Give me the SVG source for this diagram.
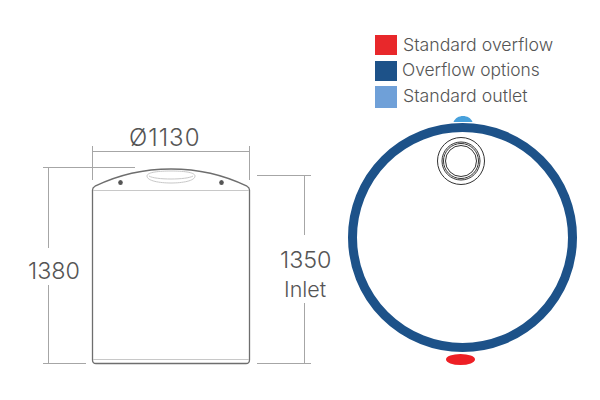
<svg xmlns="http://www.w3.org/2000/svg" width="600" height="400" viewBox="0 0 600 400">
<style>
text{font-family:Inter,"Liberation Sans",Arial,sans-serif;font-weight:300;fill:#555}
.dim{font-size:23.300px}
.leg{font-size:17.700px}
.d{fill:none;stroke:#a6a6a6;stroke-width:1}
.t{fill:none;stroke:#6e6e6e;stroke-width:1.300}
.l{fill:none;stroke:#c8c8c8;stroke-width:1}
</style>
<rect width="600" height="400" fill="#fff"/>
<g id="connectors">
<path class="d" d="M92.500 146V180M249.500 146V180M92.500 151.500H249.500"/>
<path class="d" d="M43 167.500H135M48.500 167.500V248M48.500 285V363.500M43 363.500H86"/>
<path class="d" d="M257 175.500H311M304.500 175.500V235M304.500 303V363.500M257 363.500H311"/>
</g>
<g id="tank">
<path class="t" d="M92.500 190C92.500 188 93.500 187 95 186.200C120 174 146 169 171 169C196 169 222 174 247 186.200C248.500 187 249.500 188 249.500 190V360C249.500 362 248 363.500 246 363.500H96C94 363.500 92.500 362 92.500 360Z"/>
<path class="l" d="M93 190.500H249M93 359.500H249"/>
<path class="l" d="M147 176C147 172 160 171 171 171C182 171 195 172 195 176C195 181 182 183 171 183C160 183 147 181 147 176Z"/>
<path class="l" d="M149 176C155 180 187 180 193 176"/>
<ellipse cx="120.500" cy="182.500" rx="2.300" ry="2.500" fill="#555"/>
<ellipse cx="221.500" cy="182.500" rx="2.300" ry="2.500" fill="#555"/>
</g>
<g id="label-diameter"><text class="dim" x="129" y="146" style="font-size:24px;letter-spacing:1px">Ø1130</text></g>
<g id="label-height"><text class="dim" x="28" y="279">1380</text></g>
<g id="label-inlet"><text class="dim" x="280" y="268">1350</text><text class="dim" x="284" y="297" style="font-size:21.500px">Inlet</text></g>
<g id="legend-overflow"><rect x="375" y="35" width="22" height="20" fill="#e8282b"/><text class="leg" x="403" y="51">Standard overflow</text></g>
<g id="legend-options"><rect x="375" y="61" width="22" height="20" fill="#1d5289"/><text class="leg" x="402" y="76" style="font-size:17.400px">Overflow options</text></g>
<g id="legend-outlet"><rect x="375" y="86" width="22" height="22" fill="#6fa0d8"/><text class="leg" x="403" y="102">Standard outlet</text></g>
<g id="plan">
<path id="outlet" d="M453.500 122C455 118 459 116 463 116C467 116 471 118 472.500 122Z" fill="#47a0db"/>
<ellipse id="overflow" cx="460.500" cy="359.500" rx="14.500" ry="5.500" fill="#ee1f25"/>
<circle id="ring" cx="462.500" cy="237.500" r="110" fill="none" stroke="#1d5289" stroke-width="9"/>
<g id="inlet" fill="none" stroke="#333" stroke-width="1">
<circle cx="461" cy="161" r="23.500"/>
<circle cx="461" cy="161" r="19"/>
<circle cx="461" cy="161" r="17.500"/>
<circle cx="461" cy="161" r="15.500"/>
</g>
</g>
</svg>
